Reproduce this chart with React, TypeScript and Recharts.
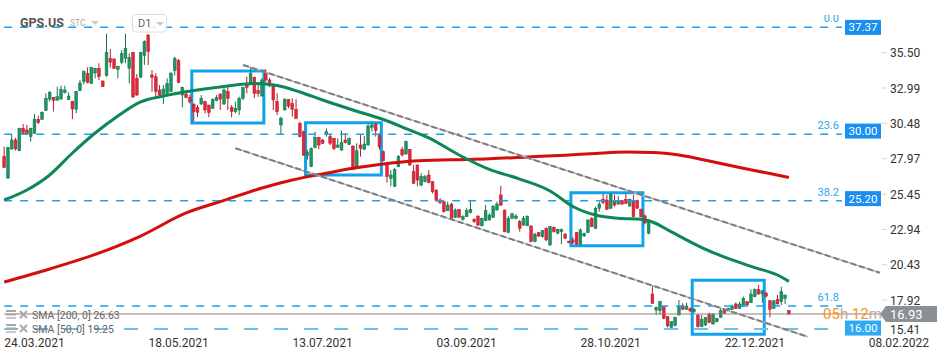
import React from 'react';
import { ComposedChart, Bar, Line, XAxis, YAxis, ReferenceLine, ReferenceArea } from 'recharts';

type Candle = [number, number, number, number]; // open, high, low, close

const FONT = 'Roboto, "DejaVu Sans", sans-serif';

// slot 0 is the 24.03.2021 session, the first candle sits 8 slots before it
const FIRST_SLOT = -8;
const LAST_SLOT = 241;

const marchMay: Candle[] = [
  [28.12, 28.82, 27.29, 27.34], [26.59, 28.79, 26.55, 28.77], [28.66, 29.65, 28.6, 29.3], [29.3, 29.44, 28.55, 28.66],
  [28.53, 30.17, 28.5, 30.13], [30.13, 30.43, 29.65, 29.77], [30.01, 30.36, 29.65, 29.72], [29.53, 30.17, 29.18, 30.13],
  [29.77, 31.14, 29.75, 30.77], [30.77, 31.02, 30.43, 30.53], [30.77, 31.33, 30.7, 31.26], [31.38, 32.61, 31.35, 32.26],
  [32.2, 32.77, 32.02, 32.69], [32.33, 32.35, 31.31, 32.12], [32.12, 33.08, 32.1, 32.37], [32.2, 33.16, 32.18, 32.9],
  [32.66, 33.15, 32.6, 32.85], [32.16, 32.69, 32.14, 32.42], [32.05, 32.07, 30.77, 31.5], [31.48, 32.78, 31.19, 32.76],
  [32.8, 33.56, 32.78, 33.35], [33.44, 34.25, 33.25, 34.15], [34.03, 34.46, 33.32, 33.37], [33.3, 34.5, 33.28, 34.46],
  [34.06, 34.41, 33.68, 34.39], [34.39, 34.75, 33.56, 33.8], [33.49, 33.52, 33.06, 33.08], [33.87, 36.85, 33.79, 35.53],
  [35.1, 35.76, 34.43, 34.82], [35.05, 35.1, 34.34, 34.39], [34.32, 34.58, 33.68, 34.53], [34.82, 35.69, 34.68, 35.43],
  [35.1, 36.85, 34.75, 35.81], [34.39, 35.46, 33.32, 35.17], [35.53, 35.55, 32.3, 32.35], [33.68, 33.99, 32.44, 32.49],
  [33.75, 35.57, 33.73, 35.53], [35.29, 36.38, 34.63, 36.28], [36.76, 36.81, 34.63, 35.57], [33.92, 34.27, 32.73, 33.75],
  [33.79, 34.04, 32.26, 32.73], [32.85, 33.2, 32.44, 32.49], [32.54, 33.2, 31.85, 32.92], [32.61, 33.68, 32.55, 33.32],
  [32.73, 34.13, 32.7, 34.04], [34.22, 35.22, 33.87, 35.1], [34.93, 35.05, 33.32, 33.4], [32.49, 33.1, 31.62, 33.04],
  [32.56, 32.85, 32.26, 32.33], [32.3, 32.5, 31.9, 32.0],
];

const mayAug: Candle[] = [
  [31.85, 31.87, 30.6, 31.31], [31.62, 31.78, 30.91, 31.26], [31.85, 32.49, 31.78, 32.26], [32.02, 32.09, 31.19, 31.43],
  [31.78, 31.8, 30.91, 31.24], [31.55, 32.26, 31.5, 32.19], [32.09, 32.49, 32.05, 32.3], [32.56, 32.61, 31.43, 32.2],
  [31.85, 32.97, 31.8, 32.85], [32.73, 33.08, 31.43, 32.26], [31.62, 31.78, 30.91, 31.31], [31.31, 32.02, 31.19, 31.55],
  [31.43, 32.37, 31.07, 32.26], [32.26, 33.08, 32.14, 33.04], [33.2, 33.8, 32.61, 33.04], [33.32, 34.5, 33.2, 34.04],
  [33.75, 33.8, 32.26, 32.61], [32.8, 33.2, 32.37, 32.61], [32.42, 33.68, 32.4, 33.56], [34.08, 34.32, 33.44, 33.56],
  [33.56, 33.7, 33.05, 33.2], [33.13, 33.32, 31.43, 32.14], [32.02, 32.61, 31.07, 31.31], [30.36, 30.95, 29.72, 30.84],
  [31.43, 32.26, 31.4, 32.19], [32.19, 32.22, 31.55, 31.71], [31.9, 32.26, 30.95, 31.48], [31.48, 32.19, 30.77, 30.84],
  [30.48, 30.6, 29.48, 29.53], [29.88, 29.96, 28.18, 28.22], [28.2, 28.6, 27.9, 28.4], [27.4, 28.77, 27.36, 28.7],
  [28.77, 29.88, 28.7, 29.49], [29.49, 29.52, 28.63, 28.94], [29.3, 29.35, 29.0, 29.06], [29.72, 30.13, 29.53, 29.88],
  [29.53, 29.65, 28.94, 29.06], [29.41, 29.45, 28.58, 28.7], [28.77, 29.41, 28.75, 28.94], [28.58, 29.97, 28.53, 29.1],
  [29.3, 29.77, 29.05, 29.1], [28.99, 29.49, 28.95, 29.41], [28.87, 28.9, 27.16, 27.21], [27.28, 29.06, 27.25, 28.53],
  [28.94, 29.65, 28.11, 28.7], [28.63, 29.58, 28.58, 29.01], [28.94, 30.43, 28.9, 30.29], [30.2, 30.53, 29.9, 30.36],
  [30.43, 30.46, 29.53, 29.96], [29.6, 29.8, 28.6, 28.8], [28.46, 28.55, 27.78, 27.82], [27.52, 27.58, 26.26, 26.69],
  [26.57, 27.16, 26.0, 26.81], [26.0, 27.3, 25.97, 27.21],
];

const augNov: Candle[] = [
  [27.4, 28.23, 27.35, 28.11], [28.63, 28.82, 28.11, 28.23], [28.3, 29.25, 28.25, 29.18], [28.63, 28.66, 27.45, 27.52],
  [27.04, 27.52, 26.17, 26.22], [27.52, 27.55, 26.0, 26.45], [26.09, 26.93, 26.0, 26.69], [26.33, 26.81, 26.28, 26.69],
  [26.81, 27.16, 26.22, 26.26], [26.33, 26.36, 25.5, 25.62], [25.74, 25.79, 24.91, 24.98], [25.03, 25.15, 24.74, 24.84],
  [24.91, 24.94, 24.13, 24.2], [24.27, 24.91, 24.24, 24.67], [24.74, 24.84, 23.66, 23.73], [23.8, 24.44, 23.75, 24.32],
  [24.37, 24.4, 23.78, 23.8], [23.66, 23.95, 23.55, 23.85], [23.85, 24.44, 23.82, 24.27], [24.13, 25.0, 24.08, 24.37],
  [23.66, 23.73, 23.4, 23.49], [23.89, 23.94, 23.2, 23.25], [23.2, 23.78, 23.15, 23.73], [23.56, 24.67, 23.52, 24.27],
  [23.61, 24.1, 23.58, 23.96], [23.8, 24.65, 23.75, 24.6], [24.32, 24.91, 24.28, 24.74], [25.39, 26.03, 24.6, 24.67],
  [24.32, 24.35, 22.74, 22.78], [22.71, 23.89, 22.68, 23.73], [23.73, 24.13, 23.7, 24.04], [23.73, 24.04, 23.66, 23.89],
  [23.49, 23.61, 22.78, 23.02], [23.25, 23.89, 23.2, 23.73], [23.2, 23.92, 23.18, 23.89], [23.18, 23.25, 22.02, 22.07],
  [22.07, 22.7, 22.02, 22.61], [22.71, 22.76, 22.4, 22.47], [22.42, 22.9, 22.36, 22.85], [23.02, 23.09, 22.12, 22.19],
  [21.83, 23.2, 21.78, 23.13], [23.09, 23.16, 22.71, 22.78], [22.66, 22.99, 22.61, 22.94], [22.78, 22.99, 21.89, 22.94],
  [22.61, 22.66, 22.26, 22.31], [22.1, 22.15, 21.95, 22.0], [22.2, 22.4, 21.9, 22.0], [22.71, 22.76, 21.85, 21.9],
  [21.9, 23.02, 21.85, 22.9], [22.47, 22.71, 22.42, 22.66], [22.71, 23.66, 22.66, 23.61], [23.73, 23.8, 23.1, 23.13],
  [23.02, 24.56, 22.98, 24.44], [24.44, 24.91, 24.2, 24.74], [25.08, 25.46, 24.74, 24.84], [25.03, 25.39, 24.33, 24.37],
  [24.44, 25.51, 24.4, 25.46], [24.98, 25.39, 24.56, 24.67], [24.74, 25.31, 24.7, 24.98], [24.98, 25.02, 24.7, 24.74],
  [25.08, 25.46, 24.75, 24.79], [24.6, 25.12, 24.56, 25.08], [24.98, 25.39, 23.8, 23.85], [24.98, 25.05, 24.4, 24.44],
  [24.37, 24.42, 23.8, 23.85], [23.9, 24.0, 23.3, 23.4], [22.66, 23.66, 22.6, 23.61],
];

const novJan: Candle[] = [
  [18.35, 18.92, 17.64, 17.69], [17.21, 17.45, 16.86, 17.41], [17.17, 17.87, 16.86, 17.8], [17.45, 17.48, 16.55, 16.62],
  [16.74, 16.78, 15.98, 16.08], [15.98, 16.41, 15.95, 16.38], [16.1, 16.74, 16.06, 16.69], [16.86, 17.92, 16.82, 17.5],
  [17.5, 17.69, 17.22, 17.26], [17.26, 17.73, 17.22, 17.5], [17.33, 17.38, 17.1, 17.14], [17.1, 17.35, 17.0, 17.25],
  [16.86, 16.9, 15.96, 16.03], [16.03, 16.86, 15.99, 16.55], [16.15, 16.72, 16.08, 16.69], [16.93, 17.02, 16.28, 16.31],
  [16.22, 16.98, 16.18, 16.93], [16.38, 16.65, 16.34, 16.62], [16.69, 17.4, 16.65, 17.17], [17.17, 17.3, 16.94, 16.98],
  [17.17, 17.38, 17.12, 17.33], [17.26, 17.6, 17.22, 17.5], [17.64, 17.75, 17.28, 17.33], [17.33, 17.8, 17.28, 17.64],
  [17.5, 18.16, 17.46, 18.04], [17.8, 17.85, 17.52, 17.57], [17.73, 18.68, 17.7, 18.35], [18.16, 18.75, 18.12, 18.68],
  [18.68, 19.0, 18.3, 18.35], [18.35, 18.6, 17.73, 18.58], [18.4, 18.5, 18.1, 18.2], [17.87, 17.9, 16.69, 17.26],
  [17.33, 17.9, 17.28, 17.87], [17.97, 18.28, 17.6, 17.64], [17.8, 18.86, 17.57, 18.51], [18.04, 18.3, 17.64, 18.28],
  [17.17, 17.2, 16.86, 16.93],
];

// moving averages at [slot, value]
const sma50Points: [number, number][] = [
  [-8, 25.03], [-2, 25.74], [4, 26.81], [10, 28.37], [16, 29.79], [22, 31.0], [28, 32.0], [34, 32.42],
  [42, 32.81], [50, 33.1], [58, 33.31], [64, 33.17], [70, 32.71], [76, 32.14], [84, 31.43], [92, 30.75],
  [98, 30.11], [104, 29.44], [112, 28.23], [120, 27.2], [128, 26.52], [136, 25.67], [142, 24.57], [148, 23.96],
  [154, 23.73], [160, 23.66], [163, 23.47], [168, 22.76], [176, 21.65], [184, 20.77], [190, 20.23], [196, 19.7],
  [199, 19.25],
];

const sma200Points: [number, number][] = [
  [-8, 19.2], [4, 20.13], [16, 21.16], [28, 22.47], [40, 24.11], [50, 25.0], [60, 25.88], [68, 26.45],
  [76, 26.88], [84, 27.28], [92, 27.59], [100, 27.8], [110, 27.89], [120, 27.96], [130, 28.09], [140, 28.21],
  [148, 28.34], [156, 28.44], [163, 28.41], [170, 28.23], [178, 27.8], [186, 27.34], [194, 26.91], [199, 26.63],
];

const dateSlots = [0, 38, 76, 114, 152, 190, 228];
const dateLabels = ['24.03.2021', '18.05.2021', '13.07.2021', '03.09.2021', '28.10.2021', '22.12.2021', '08.02.2022'];

const yTicks = [15.41, 17.92, 20.43, 22.94, 25.45, 27.97, 30.48, 32.99, 35.5];

const fibRatios = ['0.0', '23.6', '38.2', '61.8'];
const fibValues = [37.31, 29.7, 24.98, 17.5];

const priceTagValues = [37.37, 30.0, 25.2, 16.0];
const supportLevel = 15.86;
const lastPrice = 16.93;

// channel lines [slot, price]
const upperChannel = [[55, 34.63], [223, 19.86]];
const lowerChannel = [[53, 28.71], [204, 15.31]];

// consolidation boxes: slot from, slot to, price top, price bottom
const boxes = [
  [42, 60, 34.2, 30.5],
  [72, 91, 30.52, 26.81],
  [142, 160, 25.55, 21.78],
  [174, 192, 19.32, 15.49],
];

const GREEN = '#1f9463';
const GREEN_EDGE = '#137549';
const RED = '#e1283a';
const RED_EDGE = '#b71c2b';
const FIB_BLUE = '#1ba1ee';
const BOX_BLUE = '#10a2ea';

const candles = [...marchMay, ...mayAug, ...augNov, ...novJan];
const sma50Map = new Map(sma50Points);
const sma200Map = new Map(sma200Points);

const rows: any[] = [];
for (let i = FIRST_SLOT; i <= LAST_SLOT; i++) {
  const k = candles[i - FIRST_SLOT];
  rows.push({
    i,
    o: k ? k[0] : null,
    h: k ? k[1] : null,
    l: k ? k[2] : null,
    c: k ? k[3] : null,
    range: k ? [k[2], k[1]] : null,
    sma50: sma50Map.has(i) ? sma50Map.get(i) : null,
    sma200: sma200Map.has(i) ? sma200Map.get(i) : null,
  });
}

const CandleShape = (props: any) => {
  const { x, y, width, height, payload } = props;
  if (!payload || payload.o == null || y == null || isNaN(y)) return null;
  const { o, h, l, c } = payload;
  const top = Math.min(y, y + height);
  const hh = Math.abs(height);
  const span = h - l || 1;
  const py = (v: number) => top + ((h - v) / span) * hh;
  const cx = x + width / 2;
  const up = c >= o;
  const bTop = py(Math.max(o, c));
  const bBot = py(Math.min(o, c));
  return (
    <g>
      <line x1={cx} x2={cx} y1={top} y2={top + hh} stroke={up ? GREEN_EDGE : RED_EDGE} strokeWidth={1} />
      <rect
        x={cx - 1.4}
        y={bTop}
        width={2.8}
        height={Math.max(1, bBot - bTop)}
        fill={up ? GREEN : RED}
        stroke={up ? GREEN_EDGE : RED_EDGE}
        strokeWidth={0.5}
      />
    </g>
  );
};

const DateTick = (props: any) => {
  const { x, payload } = props;
  const idx = dateSlots.indexOf(payload.value);
  if (idx < 0) return <g />;
  return (
    <text x={x} y={347} textAnchor="middle" fontSize={12} fill="#333" fontFamily={FONT}>
      {dateLabels[idx]}
    </text>
  );
};

const PriceTick = (props: any) => {
  const { y, payload } = props;
  const ty = Math.min(y, 329);
  return (
    <g>
      {ty === y && <line x1={882} x2={887} y1={y} y2={y} stroke="#d4d4d4" />}
      <text x={890} y={ty + 4.5} fontSize={12} fill="#333" fontFamily={FONT}>
        {Number(payload.value).toFixed(2)}
      </text>
    </g>
  );
};

const FibLabel = (props: any) => {
  const { viewBox, text } = props;
  if (!viewBox) return null;
  return (
    <text x={viewBox.x + viewBox.width - 3} y={viewBox.y - 5} textAnchor="end" fontSize={11} fill="#2aa7ee" fontFamily={FONT}>
      {text}
    </text>
  );
};

const PriceTag = (props: any) => {
  const { viewBox, text, color } = props;
  if (!viewBox) return null;
  const y = viewBox.y + 1;
  return (
    <g>
      <rect x={845} y={y - 7.5} width={36} height={15} fill={color} />
      <text x={863} y={y + 4} textAnchor="middle" fill="#fff" fontSize={11.5} fontFamily={FONT}>
        {text}
      </text>
    </g>
  );
};

const LastPriceTag = (props: any) => {
  const { viewBox } = props;
  if (!viewBox) return null;
  const y = viewBox.y;
  return (
    <g fontFamily={FONT}>
      <text x={823} y={y + 5} fontSize={15} fill="#f7931e">
        05<tspan fill="#c9a57c">h</tspan> 12<tspan fill="#b9b2a8">m</tspan>
      </text>
      <polygon points={`880,${y} 886,${y - 8} 937,${y - 8} 937,${y + 8} 886,${y + 8}`} fill="#8a9094" />
      <text x={890} y={y + 5} fontSize={13} fill="#fff">
        {lastPrice.toFixed(2)}
      </text>
    </g>
  );
};

const LegendRow = ({ y, text }: { y: number; text: string }) => (
  <g>
    <rect x={6} y={y - 5} width={10} height={2} fill="#a8a8a8" />
    <rect x={6} y={y - 1.5} width={10} height={2} fill="#a8a8a8" />
    <rect x={6} y={y + 2} width={10} height={2} fill="#c8c8c8" />
    <line x1={20} y1={y - 4} x2={27} y2={y + 3} stroke="#a8a8a8" strokeWidth={2} />
    <line x1={27} y1={y - 4} x2={20} y2={y + 3} stroke="#a8a8a8" strokeWidth={2} />
    <text x={32} y={y + 4} fontSize={10.5} fill="#666" fontFamily={FONT}>
      {text}
    </text>
  </g>
);

export default function App() {
  return (
    <div style={{ position: 'relative', width: 950, height: 361, fontFamily: FONT, background: '#fff' }}>
      <style>{'body{margin:0}'}</style>
      <ComposedChart width={950} height={361} data={rows} margin={{ top: 0, right: 0, bottom: 0, left: 2.28 }}>
        <XAxis
          dataKey="i"
          type="category"
          allowDuplicatedCategory={false}
          interval={0}
          tick={<DateTick />}
          tickLine={false}
          axisLine={false}
          height={24}
        />
        <YAxis
          orientation="right"
          mirror
          type="number"
          domain={[15.294, 39.245]}
          allowDataOverflow
          ticks={yTicks}
          interval={0}
          tick={<PriceTick />}
          tickLine={false}
          axisLine={false}
        />

        {fibValues.map((v, n) => (
          <ReferenceLine
            key={'fib' + n}
            segment={[{ x: FIRST_SLOT, y: v }, { x: 213, y: v }]}
            stroke={FIB_BLUE}
            strokeWidth={1.5}
            strokeDasharray="8 8"
            label={<FibLabel text={fibRatios[n]} />}
          />
        ))}
        <ReferenceLine
          segment={[{ x: FIRST_SLOT, y: supportLevel }, { x: 213, y: supportLevel }]}
          stroke="#6cc0f0"
          strokeWidth={2}
          strokeDasharray="14 16"
        />

        <Bar dataKey="range" shape={<CandleShape />} isAnimationActive={false} />

        <Line dataKey="sma200" type="monotone" stroke="#d40d0d" strokeWidth={3} dot={false} connectNulls isAnimationActive={false} />
        <Line dataKey="sma50" type="monotone" stroke="#0d8753" strokeWidth={3} dot={false} connectNulls isAnimationActive={false} />

        {[upperChannel, lowerChannel].map((ch, n) => (
          <React.Fragment key={'ch' + n}>
            <ReferenceLine
              segment={[{ x: ch[0][0], y: ch[0][1] }, { x: ch[1][0], y: ch[1][1] }]}
              stroke="#b5b5b5"
              strokeWidth={1.5}
            />
            <ReferenceLine
              segment={[{ x: ch[0][0], y: ch[0][1] }, { x: ch[1][0], y: ch[1][1] }]}
              stroke="#7d7d7d"
              strokeWidth={2}
              strokeDasharray="6 3"
            />
          </React.Fragment>
        ))}

        {boxes.map((b, n) => (
          <ReferenceArea
            key={'box' + n}
            x1={b[0]}
            x2={b[1]}
            y1={b[2]}
            y2={b[3]}
            fill="none"
            fillOpacity={0}
            stroke={BOX_BLUE}
            strokeWidth={3}
            strokeOpacity={1}
          />
        ))}

        {priceTagValues.map((v, n) => (
          <ReferenceLine
            key={'tag' + n}
            y={v}
            stroke="none"
            label={<PriceTag text={v.toFixed(2)} color={n === 3 ? '#2ea9f2' : '#1a8ff0'} />}
          />
        ))}

        <ReferenceLine
          segment={[{ x: FIRST_SLOT, y: lastPrice }, { x: 223, y: lastPrice }]}
          stroke="#858585"
          strokeWidth={1}
          label={<LastPriceTag />}
        />
      </ComposedChart>

      <svg width={950} height={361} style={{ position: 'absolute', left: 0, top: 0, pointerEvents: 'none' }}>
        <rect x={812} y={0} width={34} height={15} fill="#fff" />
        <text x={20} y={27} fontSize={12.5} fontWeight="bold" fill="#555" fontFamily={FONT}>
          GPS.US
        </text>
        <text x={70} y={26} fontSize={8.5} fill="#aaa" fontFamily={FONT}>
          STC
        </text>
        <path d="M91 21 L99 21 L95 25 Z" fill="#c8c8c8" />
        <rect x={132.5} y={14.5} width={34} height={17.5} rx={3} fill="#fff" fillOpacity={0.85} stroke="#dcdcdc" />
        <text x={138} y={27} fontSize={11} fill="#666" fontFamily={FONT}>
          D1
        </text>
        <path d="M156 22 L164 22 L160 26 Z" fill="#c8c8c8" />
        <LegendRow y={315} text="SMA [200, 0] 26.63" />
        <LegendRow y={329} text="SMA [50, 0] 19.25" />
      </svg>
    </div>
  );
}
